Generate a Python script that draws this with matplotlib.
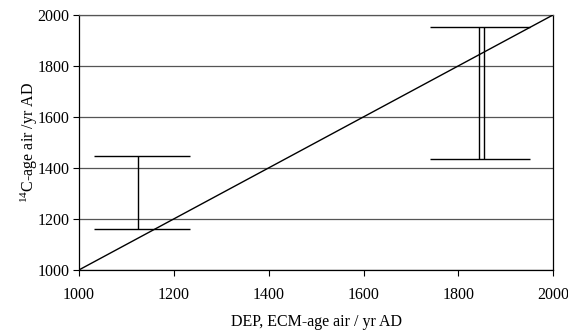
import matplotlib
matplotlib.use("Agg")
import matplotlib.pyplot as plt

# Data (yr AD)
diag_x = [1000, 2000]
diag_y = [1000, 2000]

# Bracket ranges: horizontal extent and 14C-age range
bracket_x_low = [1032, 1740]
bracket_x_high = [1234, 1951]
bracket_y_low = [1161, 1435]
bracket_y_high = [1445, 1953]
# vertical connector positions (DEP/ECM ages)
vert_x = [1124, 1844, 1854]
vert_y_low = [1161, 1435, 1435]
vert_y_high = [1445, 1953, 1953]

xticks = [1000, 1200, 1400, 1600, 1800, 2000]
yticks = [1000, 1200, 1400, 1600, 1800, 2000]

plt.rcParams['font.family'] = ['Liberation Serif', 'DejaVu Serif']
plt.rcParams['mathtext.fontset'] = 'custom'
plt.rcParams['mathtext.rm'] = 'Liberation Serif'
plt.rcParams['mathtext.it'] = 'Liberation Serif:italic'
fig = plt.figure(figsize=(5.68, 3.30), dpi=100)
ax = fig.add_axes([0.139, 0.182, 0.835, 0.773])

for y in yticks:
    ax.axhline(y, color='#555555', lw=0.9, zorder=1)

ax.plot(diag_x, diag_y, color='black', lw=1.0, zorder=3)
ax.hlines(bracket_y_low, bracket_x_low, bracket_x_high, color='black', lw=1.0, zorder=3)
ax.hlines(bracket_y_high, bracket_x_low, bracket_x_high, color='black', lw=1.0, zorder=3)
ax.vlines(vert_x, vert_y_low, vert_y_high, color='black', lw=1.0, zorder=3)

ax.set_xlim(1000, 2000)
ax.set_ylim(1000, 2000)
ax.set_xticks(xticks)
ax.set_yticks(yticks)
ax.tick_params(direction='out', length=4, width=0.8, labelsize=11.5, pad=3)
ax.tick_params(axis='x', pad=8)
for s in ax.spines.values():
    s.set_linewidth(0.9)
ax.spines['top'].set_color('#555555')

ax.set_xlabel('DEP, ECM-age air / yr AD', fontsize=11.5, labelpad=8)
ax.set_ylabel('$^{14}$C-age air /yr AD', fontsize=11.5, labelpad=-2)

fig.savefig('out.png', dpi=100)
